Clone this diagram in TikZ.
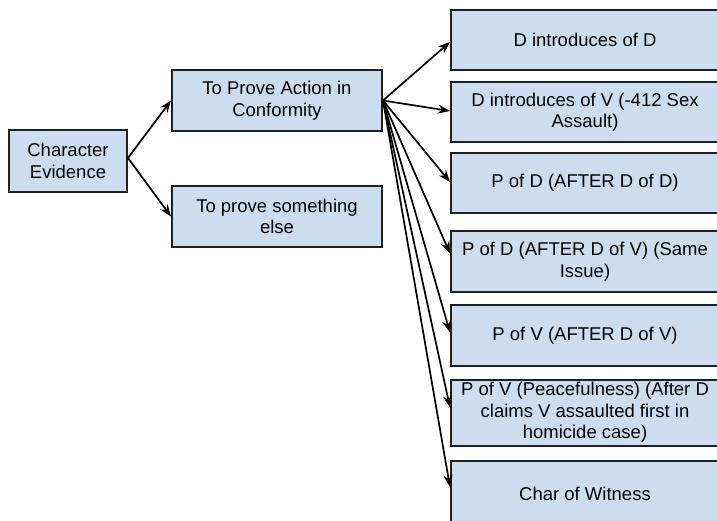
\documentclass[tikz,border=0pt]{standalone}
\usepackage{fontspec}
\setmainfont{Liberation Sans}
\usetikzlibrary{arrows.meta}
\definecolor{boxfill}{RGB}{204,221,240}
\definecolor{boxline}{RGB}{30,30,30}
\tikzset{
  cbox/.style={draw=boxline, line width=2pt, fill=boxfill, inner sep=0pt,
    align=center, font=\fontsize{18.5}{21.5}\selectfont, text=black},
  conn/.style={draw=black, line width=1.7pt, -{Stealth[length=12pt,width=9pt]}}
}
\begin{document}
\begin{tikzpicture}[x=1pt,y=-1pt]
\useasboundingbox (0,0) rectangle (717,521);
\begin{scope}
\clip (0,0) rectangle (717,521);
\node[cbox, minimum width=118pt, minimum height=62pt] (ce) at (68,161) {Character\\Evidence};
\node[cbox, minimum width=210pt, minimum height=61pt] (pa) at (277,100.5) {To Prove Action in\\Conformity};
\node[cbox, minimum width=210pt, minimum height=61pt] (ps) at (277,216.5) {To prove something\\else};
\node[cbox, minimum width=268pt, minimum height=60pt] (b1) at (585,40) {D introduces of D};
\node[cbox, minimum width=268pt, minimum height=60pt] (b2) at (585,112) {D introduces of V (-412 Sex\\Assault)};
\node[cbox, minimum width=268pt, minimum height=60pt] (b3) at (585,183) {P of D (AFTER D of D)};
\node[cbox, minimum width=268pt, minimum height=61pt] (b4) at (585,261.5) {P of D (AFTER D of V) (Same\\Issue)};
\node[cbox, minimum width=268pt, minimum height=61pt] (b5) at (585,335.5) {P of V (AFTER D of V)};
\node[cbox, minimum width=268pt, minimum height=66pt] (b6) at (585,412.5) {P of V (Peacefulness) (After D\\claims V assaulted first in\\homicide case)};
\node[cbox, minimum width=268pt, minimum height=66pt] (b7) at (585,494) {Char of Witness};
\draw[conn] ([yshift=3pt]ce.east) -- (pa.west);
\draw[conn] ([yshift=3pt]ce.east) -- (ps.west);
\draw[conn] (pa.east) -- ([yshift=-2pt]b1.west);
\draw[conn] (pa.east) -- ([yshift=1pt]b2.west);
\draw[conn] (pa.east) -- ([yshift=1pt]b3.west);
\draw[conn] (pa.east) -- ([yshift=8pt]b4.west);
\draw[conn] (pa.east) -- ([yshift=3pt]b5.west);
\draw[conn] (pa.east) -- ([yshift=5pt]b6.west);
\draw[conn] (pa.east) -- ([yshift=7pt]b7.west);
\end{scope}
\end{tikzpicture}
\end{document}
